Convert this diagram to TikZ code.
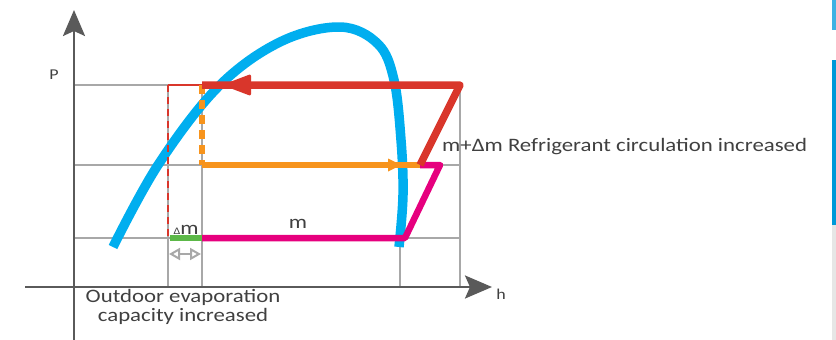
\documentclass[tikz,border=0pt]{standalone}
\usepackage{fontspec}
\setmainfont{Carlito}[FakeStretch=1.2]
\usetikzlibrary{arrows.meta}
\definecolor{axisgray}{HTML}{5A5A5A}
\definecolor{gridgray}{HTML}{A8A8A8}
\definecolor{cblue}{HTML}{00AEEF}
\definecolor{cred}{HTML}{D9362B}
\definecolor{corange}{HTML}{F7941D}
\definecolor{cpink}{HTML}{E6007E}
\definecolor{cgreen}{HTML}{5CB848}
\definecolor{ctext}{HTML}{404040}
\definecolor{barlight}{HTML}{3FB2E3}
\definecolor{barblue}{HTML}{0099D8}
\definecolor{bargray}{HTML}{E6E6E6}
\tikzset{
  axisline/.style={draw=axisgray,line width=2.5pt},
  gridline/.style={draw=gridgray,line width=1.8pt},
  lbl/.style={text=ctext,font=\fontsize{19}{21}\selectfont,inner sep=0pt},
  axlbl/.style={text=ctext,font=\fontsize{15}{17}\selectfont,inner sep=0pt},
  thick cycle/.style={line width=6.5pt},
}
\begin{document}
\begin{tikzpicture}[x=1pt,y=-1pt]
\useasboundingbox (0,0) rectangle (836,340);
% side bars
\fill[barlight] (832,0) rectangle (836,30);
\fill[barblue] (832,60) rectangle (836,225);
\fill[bargray] (832,225) rectangle (836,340);
% coordinates
\coordinate (g1) at (74,85);   \coordinate (g1e) at (460,85);
\coordinate (g2) at (74,165);  \coordinate (g2e) at (460,165);
\coordinate (g3) at (74,238);  \coordinate (g3e) at (460,238);
\coordinate (vA) at (168,85);  \coordinate (vAb) at (168,287);
\coordinate (vB) at (202,85);  \coordinate (vBb) at (202,287);
\coordinate (vC) at (400,238); \coordinate (vCb) at (400,287);
\coordinate (vD) at (460,85);  \coordinate (vDb) at (460,287);
% grid
\draw[gridline] (g1) -- (g1e);
\draw[gridline] (g2) -- (g2e);
\draw[gridline] (g3) -- (g3e);
\draw[gridline] (vA) -- (vAb);
\draw[gridline] (vB) -- (vBb);
\draw[gridline] (vC) -- (vCb);
\draw[gridline] (vD) -- (vDb);
% axes
\coordinate (yb) at (74,340); \coordinate (yt) at (74,10);
\coordinate (xl) at (25,287); \coordinate (xr) at (492,287);
\draw[axisline,-{Stealth[length=26pt,width=22pt,inset=5pt]}] (yb) -- (yt);
\draw[axisline,-{Stealth[length=27pt,width=23pt,inset=5pt]}] (xl) -- (xr);
\node[axlbl] (P) at (54,75) {P};
\node[axlbl] (h) at (501,294) {h};
% saturation dome
\draw[cblue,line width=9.5pt] plot[smooth,tension=0.6] coordinates
 {(113,247) (158,165) (218,87) (280,42) (340,27) (378,44) (394,80) (401,140) (403,195) (399,247)};
% thin red dashed
\draw[cred,line width=2pt] (vA) -- (vB);
\draw[cred,line width=2pt,dash pattern=on 7pt off 5pt] (vA) -- (168,238);
% green
\coordinate (gr1) at (170,238);
\coordinate (p1) at (202,238); \coordinate (p2) at (405,238);
\coordinate (p3) at (440,165); \coordinate (p4) at (420,165);
\draw[cgreen,thick cycle] (gr1) -- (p1);
% pink
\draw[cpink,thick cycle,line join=round] (p1) -- (p2) -- (p3) -- (p4);
% orange
\coordinate (o1) at (202,165);
\draw[corange,line width=5.5pt,dash pattern=on 9pt off 6pt] (vB) -- (o1);
\draw[corange,line width=6pt] (o1) -- (p4);
\fill[corange] (401,165) -- (388,158.5) -- (388,171.5) -- cycle;
% red
\coordinate (r1) at (460,85);
\draw[cred,line width=7.5pt,line join=round] (p4) -- (r1) -- (vB);
\fill[cred,rounded corners=2pt] (222,85) -- (251,74) -- (251,96) -- cycle;
% double arrow
\coordinate (da1) at (169,254); \coordinate (da2) at (201,254);
\draw[gridgray,line width=2pt,{Triangle[open,length=11pt,width=12pt]}-{Triangle[open,length=11pt,width=12pt]}] (da1) -- (da2);
% labels
\node[lbl,anchor=base] (dm) at (186,234) {{\fontsize{10}{11}\selectfont Δ}m};
\node[lbl,anchor=base] (m) at (298,228) {m};
\node[lbl,anchor=west] (circ) at (442,147) {m+Δm Refrigerant circulation increased};
\node[lbl,align=center] (outd) at (183,307) {Outdoor evaporation\\[-2pt]capacity increased};
\end{tikzpicture}
\end{document}
